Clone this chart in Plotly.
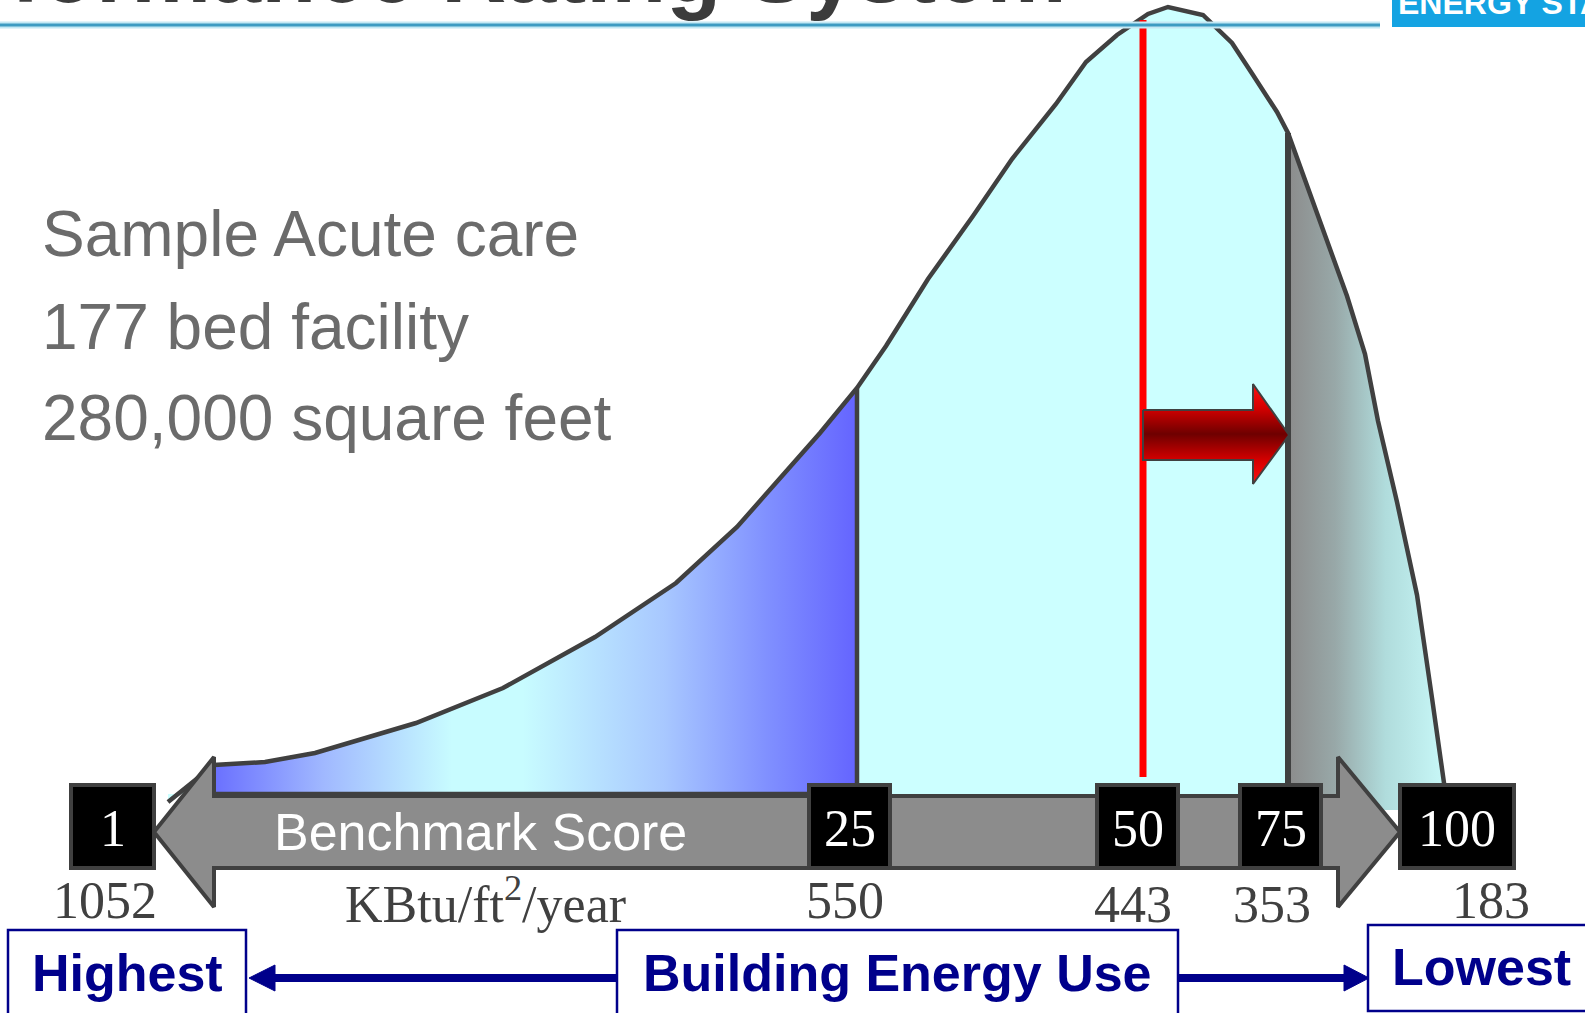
import plotly.graph_objects as go

# ---------------- data ----------------
# distribution curve: horizontal position along the score axis and height above the baseline
curve_x = [168, 214, 265, 315, 416, 503, 595, 676, 737, 820, 857, 886, 928, 973, 1012, 1056,
           1086, 1117, 1148, 1168, 1203, 1232, 1253, 1277, 1288, 1317, 1347, 1365, 1378, 1397,
           1417, 1432, 1445]
curve_h = [-8, 29, 32, 41, 71, 106, 157, 211, 267, 361, 406, 448, 515, 578, 635, 690,
           732, 759, 780, 787, 779, 751, 719, 682, 661, 582, 498, 440, 373, 292,
           199, 96, 4]

score_labels = ["1", "25", "50", "75", "100"]
energy_labels = ["1052", "550", "443", "353", "183"]
score_x0 = [71, 809, 1097, 1240, 1400]
score_x1 = [154, 890, 1178, 1321, 1514]
energy_x = [105, 845, 1133, 1272, 1491]
energy_y = [-106, -106, -110, -110, -106]

x25, x50, x75 = 857, 1143, 1288
info_lines = ["Sample Acute care", "177 bed facility", "280,000 square feet"]
info_y = [560, 467, 376]

SANS = "Liberation Sans, Arial, sans-serif"
SERIF = "Liberation Serif, Times New Roman, serif"
OUTLINE = "#404040"
NAVY = "#00008B"

W, H, BASE = 1585, 1013, 794

fig = go.Figure()

# full curve fill
fig.add_trace(go.Scatter(x=curve_x + [curve_x[-1], curve_x[0]], y=curve_h + [0, 0],
                         fill="toself", fillcolor="#CCFFFF", mode="none", hoverinfo="skip"))

# left (score < 25) region with gradient
i25 = curve_x.index(x25)
lx = curve_x[1:i25 + 1] + [x25, curve_x[1]]
ly = curve_h[1:i25 + 1] + [0, 0]
fig.add_trace(go.Scatter(x=lx, y=ly, fill="toself", mode="none", hoverinfo="skip",
                         fillgradient=dict(type="horizontal", start=curve_x[1], stop=x25,
                                           colorscale=[[0, "#6A70FF"], [0.17, "#A0B8FF"],
                                                       [0.37, "#C8FCFF"], [0.48, "#C8FCFF"],
                                                       [0.7, "#A8C8FF"], [0.86, "#8090FF"],
                                                       [1, "#6464FF"]])))

# right (score > 75) region with gradient
i75 = curve_x.index(x75)
rx = curve_x[i75:] + [curve_x[-1], x75]
ry = curve_h[i75:] + [-16, -16]
fig.add_trace(go.Scatter(x=rx, y=ry, fill="toself", mode="none", hoverinfo="skip",
                         fillgradient=dict(type="horizontal", start=x75, stop=curve_x[-1],
                                           colorscale=[[0, "#8C8C8C"], [0.3, "#98A8A8"],
                                                       [0.62, "#B0DCDC"], [1, "#C8F8F8"]])))

# outlines
fig.add_trace(go.Scatter(x=curve_x, y=curve_h, mode="lines", hoverinfo="skip",
                         line=dict(color=OUTLINE, width=4.5)))
fig.add_trace(go.Scatter(x=[x25, x25], y=[curve_h[i25], 0], mode="lines", hoverinfo="skip",
                         line=dict(color=OUTLINE, width=4.5)))
fig.add_trace(go.Scatter(x=[curve_x[1], x25], y=[0, 0], mode="lines", hoverinfo="skip",
                         line=dict(color=OUTLINE, width=4.5)))
fig.add_trace(go.Scatter(x=[x75, x75], y=[curve_h[i75], 9], mode="lines", hoverinfo="skip",
                         line=dict(color=OUTLINE, width=6)))

# red current-score line
fig.add_trace(go.Scatter(x=[x50, x50], y=[774, 17], mode="lines", hoverinfo="skip",
                         line=dict(color="#FF0000", width=7)))

# red improvement arrow
fig.add_trace(go.Scatter(x=[x50, 1253, 1253, 1289, 1253, 1253, x50, x50],
                         y=[384, 384, 410, 359, 310, 334, 334, 384],
                         fill="toself", mode="lines", hoverinfo="skip",
                         line=dict(color=OUTLINE, width=2),
                         fillgradient=dict(type="vertical", start=310, stop=410,
                                           colorscale=[[0, "#FF1010"], [0.24, "#D40000"],
                                                       [0.5, "#6E0000"], [0.76, "#D40000"],
                                                       [1, "#FF1010"]])))

# grey double arrow (benchmark score axis)
fig.add_trace(go.Scatter(x=[154, 214, 214, 1338, 1338, 1400, 1338, 1338, 214, 214, 154],
                         y=[-38, 37, -2, -2, 37, -38, -113, -74, -74, -113, -38],
                         fill="toself", fillcolor="#8C8C8C", mode="lines", hoverinfo="skip",
                         line=dict(color=OUTLINE, width=4)))

# navy arrows at the bottom
fig.add_trace(go.Scatter(x=[617, 268], y=[-184, -184], mode="lines", hoverinfo="skip",
                         line=dict(color=NAVY, width=8)))
fig.add_trace(go.Scatter(x=[249, 275, 275, 249], y=[-184, -171, -197, -184], fill="toself",
                         fillcolor=NAVY, mode="lines", line=dict(color=NAVY, width=1),
                         hoverinfo="skip"))
fig.add_trace(go.Scatter(x=[1178, 1350], y=[-184, -184], mode="lines", hoverinfo="skip",
                         line=dict(color=NAVY, width=8)))
fig.add_trace(go.Scatter(x=[1369, 1344, 1344, 1369], y=[-184, -171, -197, -184], fill="toself",
                         fillcolor=NAVY, mode="lines", line=dict(color=NAVY, width=1),
                         hoverinfo="skip"))

shapes = []
# title underline and logo block
shapes.append(dict(type="line", x0=0, x1=1380, y0=769, y1=769, line=dict(color="#C4E8F4", width=7)))
shapes.append(dict(type="line", x0=0, x1=1380, y0=769, y1=769, line=dict(color="#3D9BC2", width=3)))
shapes.append(dict(type="rect", x0=1392, x1=1600, y0=767, y1=820, fillcolor="#14A3E2",
                   line=dict(width=0)))

# score boxes
for a, b in zip(score_x0, score_x1):
    shapes.append(dict(type="rect", x0=a, x1=b, y0=9, y1=-74, fillcolor="black",
                       line=dict(color=OUTLINE, width=4), layer="above"))

# bottom boxes
shapes.append(dict(type="rect", x0=8, x1=246, y0=-136, y1=-240, fillcolor="white",
                   line=dict(color=NAVY, width=2.5)))
shapes.append(dict(type="rect", x0=617, x1=1178, y0=-136, y1=-240, fillcolor="white",
                   line=dict(color=NAVY, width=2.5)))
shapes.append(dict(type="rect", x0=1368, x1=1610, y0=-131, y1=-217, fillcolor="white",
                   line=dict(color=NAVY, width=2.5)))

ann = []
# title (cut at top of page)
ann.append(dict(x=1068, xref="x", xanchor="right", y=1 + 29 / H, yref="paper", yanchor="middle",
                text="<b>Performance Rating System</b>", showarrow=False,
                font=dict(family=SANS, size=90, color="#3C3C3C")))
ann.append(dict(x=1396, xref="x", xanchor="left", y=1 - 3 / H, yref="paper", yanchor="middle",
                text="<b>ENERGY STAR</b>", showarrow=False,
                font=dict(family=SANS, size=32, color="white")))

for t, yy in zip(info_lines, info_y):
    ann.append(dict(x=40, xanchor="left", y=yy, yanchor="middle", text=t, showarrow=False,
                    font=dict(family=SANS, size=64, color="#6B6B6B")))

for lab, a, b in zip(score_labels, score_x0, score_x1):
    ann.append(dict(x=(a + b) / 2, y=-34, text=lab, showarrow=False,
                    font=dict(family=SERIF, size=52, color="white")))

for lab, xx, yy in zip(energy_labels, energy_x, energy_y):
    ann.append(dict(x=xx, y=yy, text=lab, showarrow=False,
                    font=dict(family=SERIF, size=52, color="#404040")))

ann.append(dict(x=480, y=-38, text="Benchmark Score", showarrow=False,
                font=dict(family=SANS, size=52, color="white")))
ann.append(dict(x=485, y=-106, text="KBtu/ft<sup>2</sup>/year", showarrow=False,
                font=dict(family=SERIF, size=52, color="#404040")))

ann.append(dict(x=127, y=-179, text="<b>Highest</b>", showarrow=False,
                font=dict(family=SANS, size=52, color=NAVY)))
ann.append(dict(x=897, y=-179, text="<b>Building Energy Use</b>", showarrow=False,
                font=dict(family=SANS, size=52, color=NAVY)))
ann.append(dict(x=1481, y=-173, text="<b>Lowest</b>", showarrow=False,
                font=dict(family=SANS, size=52, color=NAVY)))

fig.update_layout(
    width=W, height=H, margin=dict(l=0, r=0, t=0, b=0),
    paper_bgcolor="white", plot_bgcolor="white", showlegend=False,
    xaxis=dict(range=[0, W], visible=False, fixedrange=True),
    yaxis=dict(range=[BASE - H, BASE], visible=False, fixedrange=True),
    shapes=shapes, annotations=ann,
)

fig.write_html("out.html", config={"displayModeBar": False},
               post_script="document.body.style.margin='0px';document.body.style.overflow='hidden';")
